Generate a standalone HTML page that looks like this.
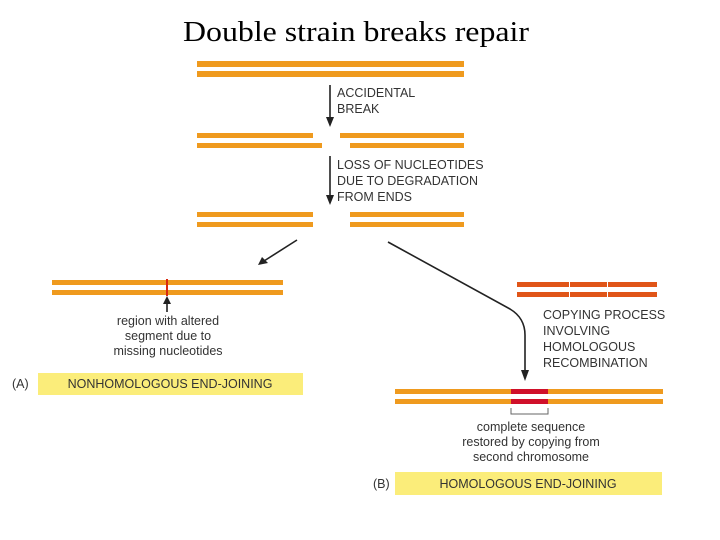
<!DOCTYPE html>
<html><head><meta charset="utf-8"><style>
html,body{margin:0;padding:0;background:#fff;}
svg{display:block;}
.s{font-family:"Liberation Sans",sans-serif;font-size:12.5px;fill:#333;}
</style></head><body>
<svg width="720" height="540" viewBox="0 0 720 540" xmlns="http://www.w3.org/2000/svg">
<text x="356" y="41" text-anchor="middle" font-family="Liberation Serif,serif" font-size="29" textLength="346" lengthAdjust="spacingAndGlyphs" fill="#000">Double strain breaks repair</text>
<g fill="#ef9a1e">
<rect x="197" y="61" width="267" height="6"/><rect x="197" y="71" width="267" height="6"/>
<rect x="197" y="133" width="116" height="5"/><rect x="340" y="133" width="124" height="5"/>
<rect x="197" y="143" width="125" height="5"/><rect x="350" y="143" width="114" height="5"/>
<rect x="197" y="212" width="116" height="5"/><rect x="350" y="212" width="114" height="5"/>
<rect x="197" y="222" width="116" height="5"/><rect x="350" y="222" width="114" height="5"/>
<rect x="52" y="280" width="231" height="5"/><rect x="52" y="290" width="231" height="5"/>
<rect x="395" y="389" width="268" height="5"/><rect x="395" y="399" width="268" height="5"/>
</g>
<rect x="166" y="279" width="2" height="17" fill="#d82a10"/>
<rect x="511" y="389" width="37" height="5" fill="#d0102a"/><rect x="511" y="399" width="37" height="5" fill="#d0102a"/>
<g fill="#e05518"><rect x="517" y="282" width="140" height="5"/><rect x="517" y="292" width="140" height="5"/></g>
<rect x="569" y="281" width="1" height="17" fill="#fff"/><rect x="607" y="281" width="1" height="17" fill="#fff"/>
<g stroke="#222" stroke-width="1.6" fill="none">
<line x1="330" y1="85" x2="330" y2="118"/>
<line x1="330" y1="156" x2="330" y2="196"/>
<line x1="297" y1="240" x2="264" y2="261"/>
<line x1="167" y1="302" x2="167" y2="312"/>
<path d="M388 242 L510 309 Q525 318 525 335 L525 372"/>
<path d="M511 408 L511 414 L548 414 L548 408" stroke="#666" stroke-width="1"/>
</g>
<g fill="#222">
<polygon points="326,117 334,117 330,127"/>
<polygon points="326,195 334,195 330,205"/>
<polygon points="258,265 262,257 268,263"/>
<polygon points="163,304 171,304 167,296"/>
<polygon points="521,370 529,370 525,381"/>
</g>
<text class="s" x="337" y="97">ACCIDENTAL</text>
<text class="s" x="337" y="113">BREAK</text>
<text class="s" x="337" y="169">LOSS OF NUCLEOTIDES</text>
<text class="s" x="337" y="185">DUE TO DEGRADATION</text>
<text class="s" x="337" y="201">FROM ENDS</text>
<g text-anchor="middle">
<text class="s" x="168" y="325">region with altered</text>
<text class="s" x="168" y="340">segment due to</text>
<text class="s" x="168" y="355">missing nucleotides</text>
<text class="s" x="531" y="431">complete sequence</text>
<text class="s" x="531" y="446">restored by copying from</text>
<text class="s" x="531" y="461">second chromosome</text>
</g>
<text class="s" x="543" y="319">COPYING PROCESS</text>
<text class="s" x="543" y="335">INVOLVING</text>
<text class="s" x="543" y="351">HOMOLOGOUS</text>
<text class="s" x="543" y="367">RECOMBINATION</text>
<rect x="38" y="373" width="265" height="22" fill="#fbed7a"/>
<rect x="395" y="472" width="267" height="23" fill="#fbed7a"/>
<text class="s" x="12" y="388">(A)</text>
<text class="s" x="170" y="388" text-anchor="middle">NONHOMOLOGOUS END-JOINING</text>
<text class="s" x="373" y="488">(B)</text>
<text class="s" x="528" y="488" text-anchor="middle">HOMOLOGOUS END-JOINING</text>
</svg>
</body></html>
